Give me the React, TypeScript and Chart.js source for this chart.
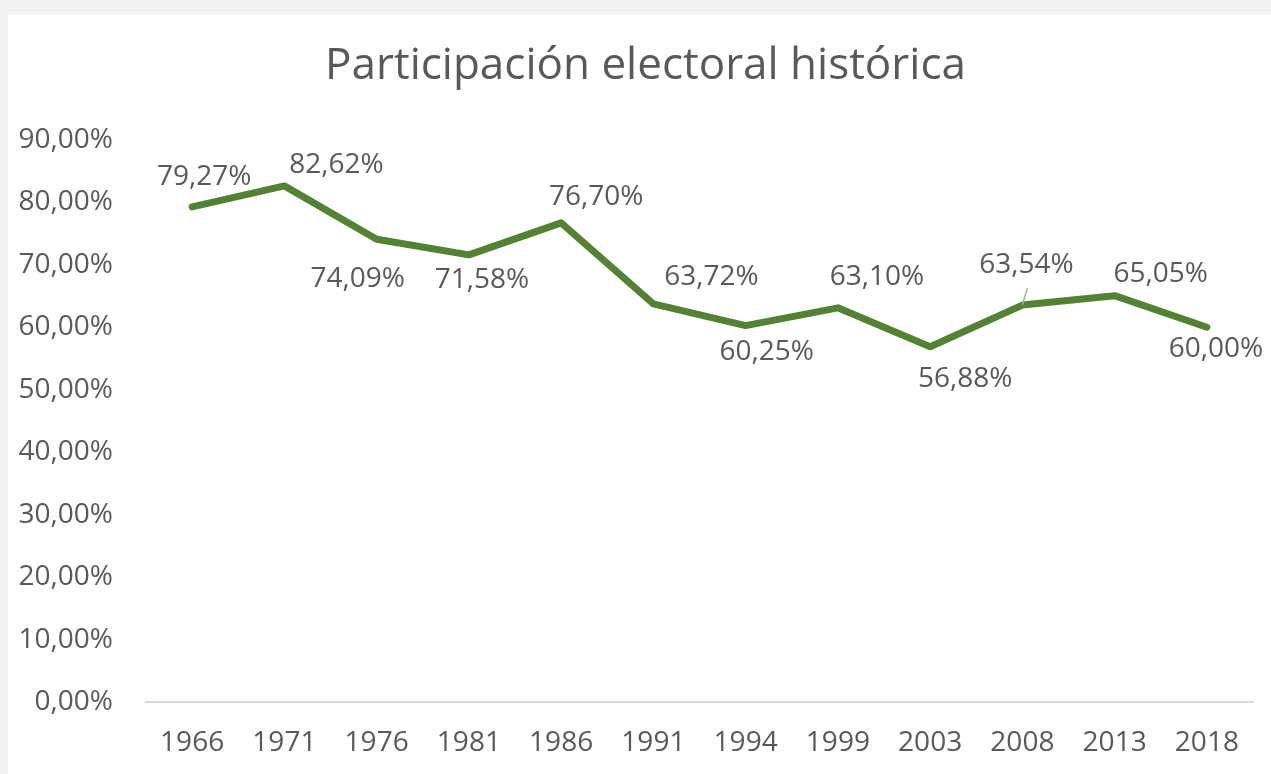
import React, { useEffect, useRef } from "react";
import { Chart, registerables } from "chart.js";

Chart.register(...registerables);

const TITLE = "Participación electoral histórica";
const years = ["1966", "1971", "1976", "1981", "1986", "1991", "1994", "1999", "2003", "2008", "2013", "2018"];
const turnout = [79.27, 82.62, 74.09, 71.58, 76.70, 63.72, 60.25, 63.10, 56.88, 63.54, 65.05, 60.00];
const yTicks = [0, 10, 20, 30, 40, 50, 60, 70, 80, 90];

// label placement relative to each point (style only): [dx to text centre, dy to text baseline, leader line]
const labelOffsets: [number, number, boolean][] = [
  [12, -22, false],
  [52, -13, false],
  [-19, 48, false],
  [13, 33, false],
  [35, -18, false],
  [58, -19, false],
  [21, 34, false],
  [39, -23, false],
  [35, 40, false],
  [4, -32, true],
  [46, -14, false],
  [9, 30, false],
];

const fmt = (v: number) => v.toFixed(2).replace(".", ",") + "%";
const FONT = "'Open Sans', 'DejaVu Sans', sans-serif";
const GRAY = "#595959";

const titleShift = {
  id: "titleShift",
  beforeDraw(chart: any) {
    const t = chart.titleBlock;
    if (t) t.left = 30;
  },
};

const dataLabels = {
  id: "dataLabels",
  afterDatasetsDraw(chart: any) {
    const ctx = chart.ctx;
    const meta = chart.getDatasetMeta(0);
    ctx.save();
    ctx.font = `28px ${FONT}`;
    ctx.fillStyle = GRAY;
    ctx.textAlign = "center";
    ctx.textBaseline = "alphabetic";
    meta.data.forEach((pt: any, i: number) => {
      const [dx, dy, leader] = labelOffsets[i] || [0, -20, false];
      const x = pt.x + dx;
      const y = pt.y + dy;
      if (leader) {
        ctx.strokeStyle = "#a6a6a6";
        ctx.lineWidth = 1.5;
        ctx.beginPath();
        ctx.moveTo(pt.x, pt.y);
        ctx.lineTo(pt.x + 5, pt.y - 17);
        ctx.stroke();
      }
      ctx.fillText(fmt(turnout[i]), x, y);
    });
    ctx.restore();
  },
};

export default function App() {
  const ref = useRef<HTMLCanvasElement | null>(null);
  useEffect(() => {
    if (!ref.current) return;
    const chart = new Chart(ref.current, {
      type: "line",
      data: {
        labels: years,
        datasets: [
          {
            data: turnout,
            borderColor: "#548235",
            borderWidth: 7,
            borderCapStyle: "round",
            borderJoinStyle: "round",
            pointRadius: 0,
            pointHoverRadius: 0,
            tension: 0,
            fill: false,
          },
        ],
      },
      options: {
        responsive: true,
        maintainAspectRatio: false,
        animation: false,
        layout: { padding: { left: 0, right: 18, top: 0, bottom: 0 } },
        plugins: {
          legend: { display: false },
          tooltip: { enabled: false },
          title: {
            display: true,
            text: TITLE,
            color: GRAY,
            font: { family: FONT, size: 44, weight: "normal" },
            padding: { top: 25, bottom: 47 },
          },
        },
        scales: {
          x: {
            offset: true,
            grid: { display: false, drawTicks: false },
            border: { display: true, color: "#d9d9d9", width: 2 },
            ticks: { color: GRAY, font: { family: FONT, size: 28 }, padding: 24, maxRotation: 0, autoSkip: false },
            afterFit(scale: any) {
              scale.height = 72;
            },
          },
          y: {
            min: 0,
            max: 90,
            grid: { display: false, drawTicks: false },
            border: { display: false },
            afterBuildTicks(scale: any) {
              scale.ticks = yTicks.map((v) => ({ value: v }));
            },
            ticks: {
              color: GRAY,
              font: { family: FONT, size: 28 },
              padding: 33,
              callback: (v: any) => fmt(Number(v)),
            },
            afterFit(scale: any) {
              scale.width = 138;
            },
          },
        },
      },
      plugins: [dataLabels, titleShift],
    });
    return () => chart.destroy();
  }, []);

  return (
    <div style={{ position: "fixed", left: 0, top: 0, width: 1271, height: 774, background: "#f3f3f3", overflow: "hidden" }}>
      <div style={{ position: "absolute", left: 8, top: 15, width: 1263, height: 759, background: "#ffffff" }}>
        <canvas ref={ref} />
      </div>
    </div>
  );
}
